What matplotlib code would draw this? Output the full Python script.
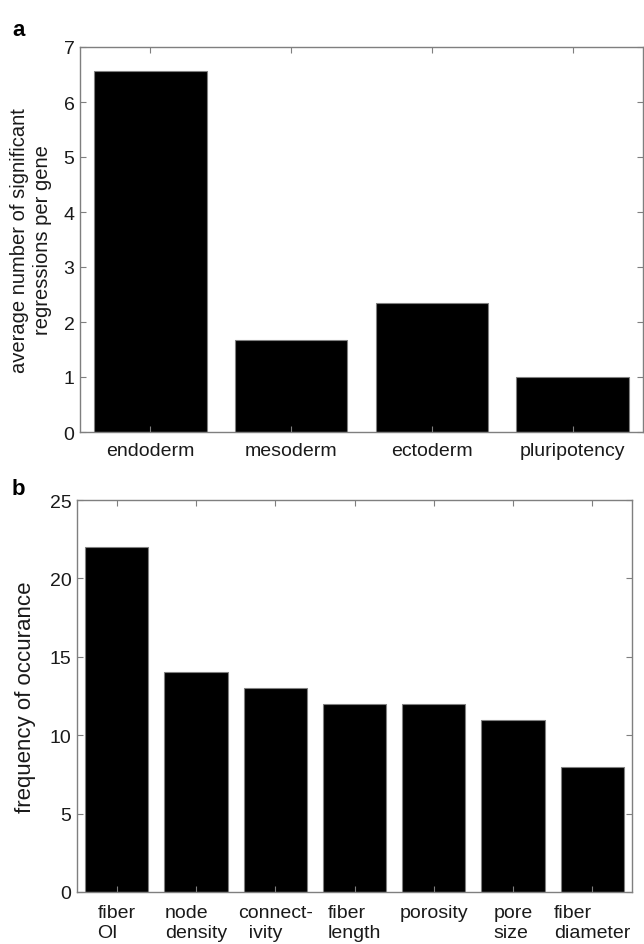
import matplotlib
matplotlib.use('Agg')
import matplotlib.pyplot as plt

plt.rcParams['font.family'] = ['Liberation Sans', 'DejaVu Sans']

layers = ['endoderm', 'mesoderm', 'ectoderm', 'pluripotency']
avg_regressions = [6.57, 1.67, 2.34, 1.0]

features = ['fiber\nOI', 'node\ndensity', 'connect-\n  ivity', 'fiber\nlength',
            'porosity', 'pore\nsize', 'fiber\ndiameter']
frequency = [22, 14, 13, 12, 12, 11, 8]

fig = plt.figure(figsize=(6.44, 9.45), dpi=100)
W, H = 644, 945

def style(ax):
    for s in ax.spines.values():
        s.set_color('#7f7f7f')
        s.set_linewidth(1.0)
    ax.tick_params(direction='in', top=True, right=True, length=4,
                   color='#7f7f7f', labelsize=14, labelcolor='#1a1a1a', pad=4)

ax1 = fig.add_axes([80 / W, 1 - 433 / H, (643 - 80) / W, (433 - 48) / H])
x1 = range(1, len(layers) + 1)
ax1.bar(x1, avg_regressions, width=0.8, color='black', edgecolor='#808080', linewidth=0.8)
ax1.set_xlim(0.5, 4.5)
ax1.set_ylim(0, 7)
ax1.set_xticks(list(x1))
ax1.set_xticklabels(layers)
ax1.set_yticks(range(0, 8))
ax1.set_ylabel('average number of significant\nregressions per gene', fontsize=14.5,
               color='#1a1a1a', labelpad=8, linespacing=1.3)
style(ax1)
ax1.tick_params(axis='x', pad=7)

ax2 = fig.add_axes([77 / W, 1 - 893 / H, (632 - 77) / W, (893 - 501) / H])
x2 = range(1, len(features) + 1)
ax2.bar(x2, frequency, width=0.8, color='black', edgecolor='#808080', linewidth=0.8)
ax2.set_xlim(0.5, 7.5)
ax2.set_ylim(0, 25)
ax2.set_xticks(list(x2))
ax2.set_xticklabels(features, multialignment='left', va='top', linespacing=1.2)
ax2.set_yticks(range(0, 26, 5))
ax2.set_ylabel('frequency of occurance', fontsize=16, color='#1a1a1a', labelpad=10)
style(ax2)
ax2.tick_params(axis='x', pad=9)

fig.text(12 / W, 1 - 30 / H, 'a', fontsize=16, fontweight='bold', va='center')
fig.text(12 / W, 1 - 490 / H, 'b', fontsize=16, fontweight='bold', va='center')

fig.savefig('out.png', dpi=100)
